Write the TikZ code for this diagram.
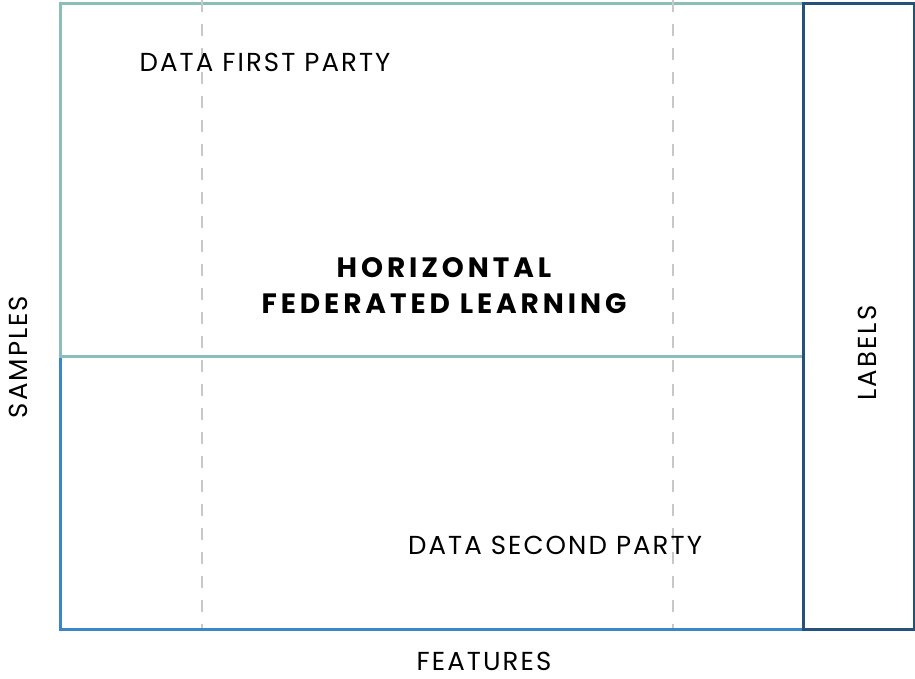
\documentclass[tikz,border=0pt]{standalone}
\usepackage{fontspec}
\setmainfont{Poppins}
\newfontfamily\lblfont[LetterSpace=8]{Poppins}
\newfontfamily\titlefont[LetterSpace=14]{Poppins Bold}
\definecolor{teal1}{HTML}{8BBDBB}
\definecolor{blue1}{HTML}{3A87C8}
\definecolor{navy1}{HTML}{24527A}
\definecolor{dash1}{HTML}{C8C8C8}
\tikzset{
  lbl/.style={inner sep=0pt,font=\lblfont\fontsize{26}{30}\selectfont},
  party/.style={draw,line width=3pt,inner sep=0pt,anchor=north west}
}
\begin{document}
\begin{tikzpicture}[x=1pt,y=-1pt]
	  \useasboundingbox (0,0) rectangle (915,678);
	  \node[party,draw=blue1,minimum width=743pt,minimum height=273pt] (second) at (59,355) {};
	  \node[party,draw=teal1,minimum width=743pt,minimum height=353.5pt] (first) at (59,1.5) {};
	  \node[party,draw=navy1,minimum width=110.5pt,minimum height=626.5pt] (labels) at (802,1.5) {};

	  \draw[dash1,line width=2.5pt,dash pattern=on 12pt off 12pt] (202,0) -- (202,628) (673,0) -- (673,628);

	  \node[lbl] (t1) at (265,62) {DATA FIRST PARTY};
	  \node[lbl] (t2) at (555,545) {DATA SECOND PARTY};
	  \node[lbl,font=\titlefont\fontsize{28}{36}\selectfont,align=center] (t3) at (444,286) {HORIZONTAL\\FEDERATED LEARNING};
	  \node[lbl] (t4) at (484,661) {FEATURES};
	  \node[lbl,rotate=90] (t5) at (18,357) {SAMPLES};
	  \node[lbl,rotate=90] (t6) at (867,353) {LABELS};
	\end{tikzpicture}
\end{document}
